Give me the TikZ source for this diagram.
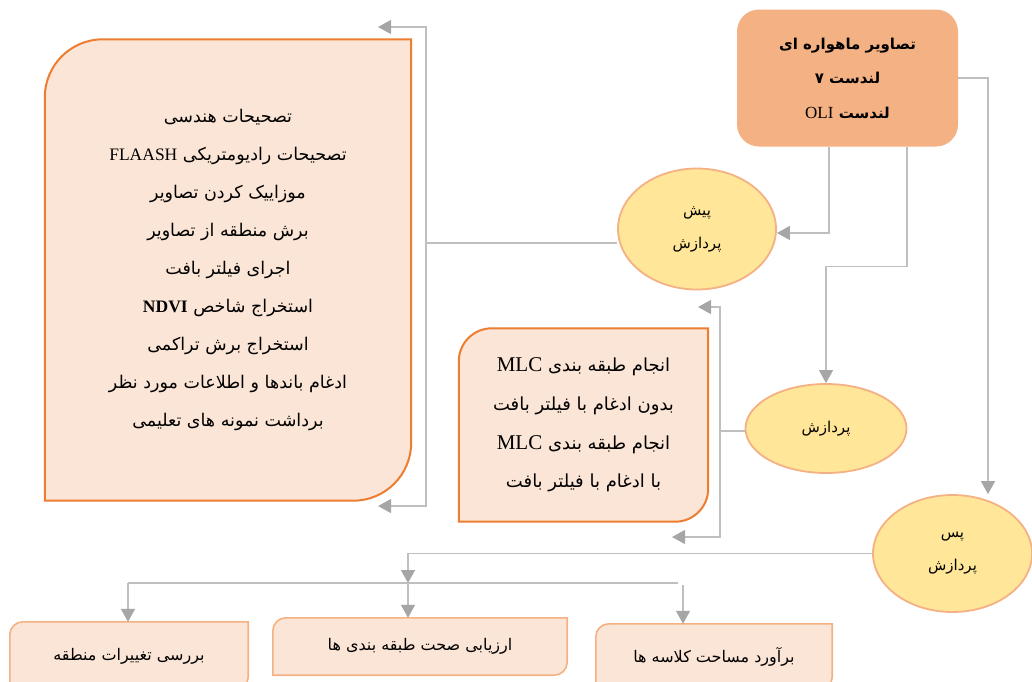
\documentclass[tikz,border=0pt]{standalone}
\usepackage{fontspec}
\usetikzlibrary{shapes.geometric}
\usetikzlibrary{arrows.meta}
\usetikzlibrary{backgrounds}
\TeXXeTstate=1
\newfontfamily\farsifont[Script=Arabic]{DejaVu Sans}
\newfontfamily\latinfont{Liberation Serif}
\newcommand{\fa}[1]{\beginR #1\endR}
\newcommand{\en}[1]{\beginL{\latinfont #1}\endL}
\definecolor{paleorange}{HTML}{FBE5D6}
\definecolor{deeporange}{HTML}{ED7D31}
\definecolor{softorange}{HTML}{F4B183}
\definecolor{paleyellow}{HTML}{FFE699}
\definecolor{linegray}{HTML}{BFBFBF}
\definecolor{tipgray}{HTML}{A6A6A6}
\newcommand{\cornerbox}[3]{%
  \begin{scope}[on background layer]
    \draw[#3] (#1.south west) -- ([yshift=-#2]#1.north west)
      arc[start angle=180,end angle=90,radius=#2] -- (#1.north east)
      -- ([yshift=#2]#1.south east) arc[start angle=0,end angle=-90,radius=#2] -- cycle;
  \end{scope}}

\begin{document}
\begin{tikzpicture}[x=1pt,y=1pt]
  \tikzstyle{conn}=[draw=linegray,line width=1.2pt]
  \tikzstyle{arr}=[conn,-{Triangle[width=14pt,length=13pt,color=tipgray]}]
  \tikzstyle{stage}=[ellipse,draw=softorange,line width=1.8pt,fill=paleyellow,inner sep=0pt,align=center,font=\farsifont\fontsize{15}{33}\selectfont]
  \tikzstyle{listtext}=[inner sep=0pt,align=center,font=\farsifont\fontsize{17.5}{38}\selectfont]
  \tikzstyle{listline}=[draw=deeporange,line width=2pt,fill=paleorange]
  \tikzstyle{cardtext}=[inner sep=0pt,font=\farsifont\fontsize{16}{19}\selectfont]
  \tikzstyle{cardline}=[draw=softorange,line width=1.6pt,fill=paleorange]
  \useasboundingbox (0,0) rectangle (1032,-681);
  \node (satellite) at (847.5,-78) [rounded corners=22pt,fill=softorange,minimum width=221pt,minimum height=137pt,align=center,font=\farsifont\bfseries\fontsize{15}{34.5}\selectfont] {\fa{تصاویر ماهواره ای}\\ \fa{لندست ۷}\\ \fa{لندست \en{\mdseries\fontsize{17}{34.5}\selectfont OLI}}};
  \node (preproc) at (697,-229) [stage,minimum width=158pt,minimum height=121pt] {\fa{پیش}\\ \fa{پردازش}};
  \node (proc) at (826,-428.5) [stage,minimum width=161pt,minimum height=89pt] {\fa{پردازش}};
  \node (postproc) at (952.5,-553.5) [stage,minimum width=159pt,minimum height=117pt] {\fa{پس}\\ \fa{پردازش}};
  \node (preplist) at (228,-270) [listtext,minimum width=366pt,minimum height=461pt] {\fa{تصحیحات هندسی}\\ \fa{تصحیحات رادیومتریکی \en{FLAASH}}\\ \fa{موزاییک کردن تصاویر}\\ \fa{برش منطقه از تصاویر}\\ \fa{اجرای فیلتر بافت}\\ \fa{استخراج شاخص \en{\bfseries NDVI}}\\ \fa{استخراج برش تراکمی}\\ \fa{ادغام باندها و اطلاعات مورد نظر}\\ \fa{برداشت نمونه های تعلیمی}};
  \cornerbox{preplist}{58pt}{listline}
  \node (mlclist) at (583.5,-425) [listtext,minimum width=249pt,minimum height=193pt,font=\farsifont\fontsize{18}{38.7}\selectfont] {\fa{انجام طبقه بندی \en{\fontsize{21}{38.7}\selectfont MLC}}\\ \fa{بدون ادغام با فیلتر بافت}\\ \fa{انجام طبقه بندی \en{\fontsize{21}{38.7}\selectfont MLC}}\\ \fa{با ادغام با فیلتر بافت}};
  \cornerbox{mlclist}{33pt}{listline}
  \node (change) at (129,-656) [cardtext,minimum width=238pt,minimum height=68pt] {\fa{بررسی تغییرات منطقه}};
  \cornerbox{change}{13pt}{cardline}
  \node (accuracy) at (420,-646.5) [cardtext,minimum width=294pt,minimum height=57pt] {\fa{ارزیابی صحت طبقه بندی ها}};
  \cornerbox{accuracy}{13pt}{cardline}
  \node (area) at (714,-657) [cardtext,minimum width=236pt,minimum height=66pt] {\fa{برآورد مساحت کلاسه ها}};
  \cornerbox{area}{13pt}{cardline}
  \coordinate (pretop) at (378,-27);
  \coordinate (prebot) at (378,-506);
  \coordinate (prejoin) at (426,-243);
  \coordinate (mlctop) at (698,-307);
  \coordinate (mlcbot) at (672,-537);
  \coordinate (mlcjoin) at (720,-431);
  \coordinate (busin) at (408,-583);
  \coordinate (busleft) at (128,-583);
  \coordinate (busright) at (678,-583);
  \coordinate (areadrop) at (683,-585);
  \draw[arr] ([xshift=-18.5pt]satellite.south) |- ([yshift=-4pt]preproc.east);
  \draw[arr] ([xshift=59.5pt]satellite.south) -- ++(0,-120) -| (proc.north);
  \draw[arr] (satellite.east) -| ([xshift=35.5pt]postproc.north);
  \draw[conn] ([yshift=-14pt]preproc.west) -- (prejoin);
  \draw[arr] (prejoin) |- (pretop);
  \draw[arr] (prejoin) |- (prebot);
  \draw[conn] ([yshift=-2.5pt]proc.west) -- (mlcjoin);
  \draw[arr] (mlcjoin) |- (mlctop);
  \draw[arr] (mlcjoin) |- (mlcbot);
  \draw[arr] (postproc.west) -| (busin);
  \draw[conn] (busleft) -- (busright);
  \draw[arr] (busleft) -- (busleft |- change.north);
  \draw[arr] (busin) -- (busin |- accuracy.north);
  \draw[arr] (areadrop) -- (areadrop |- area.north);
\end{tikzpicture}
\end{document}
